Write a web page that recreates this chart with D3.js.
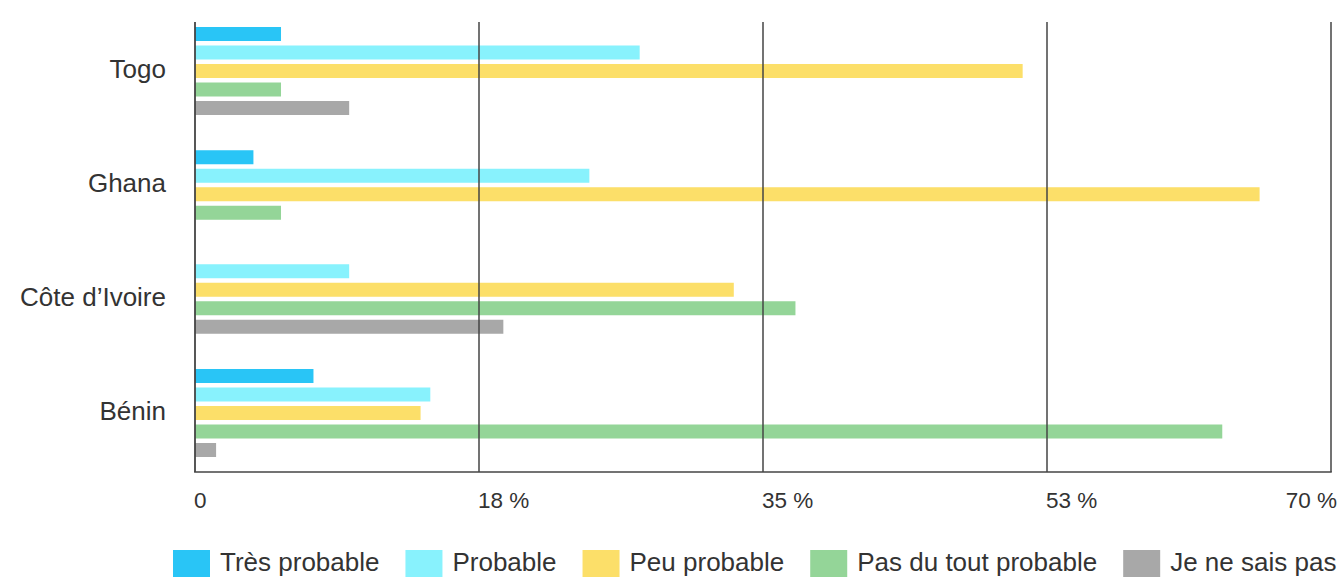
<!DOCTYPE html>
<html>
<head>
<meta charset="utf-8">
<script src="https://cdn.jsdelivr.net/npm/d3@7/dist/d3.min.js"></script>
<style>
  html, body { margin: 0; padding: 0; background: #fff; }
  svg { display: block; font-family: "Liberation Sans", Arial, Helvetica, sans-serif; }
</style>
</head>
<body>
<svg id="chart" width="1338" height="577"></svg>
<script>
const categories = ["Togo", "Ghana", "Côte d’Ivoire", "Bénin"];
const seriesNames = ["Très probable", "Probable", "Peu probable", "Pas du tout probable", "Je ne sais pas"];
const seriesColors = ["#29c5f6", "#88f2fd", "#fcdf69", "#94d598", "#a8a8a8"];
// values per series, in category order (0 = no bar)
const tresProbable   = [5.3, 3.6, 0, 7.3];
const probable       = [27.4, 24.3, 9.5, 14.5];
const peuProbable    = [51.0, 65.6, 33.2, 13.9];
const pasDuTout      = [5.3, 5.3, 37.0, 63.3];
const jeNeSaisPas    = [9.5, 0, 19.0, 1.3];
const tickValues = [0, 17.5, 35, 52.5, 70];
const tickLabels = ["0", "18 %", "35 %", "53 %", "70 %"];

const seriesValues = [tresProbable, probable, peuProbable, pasDuTout, jeNeSaisPas];

const svg = d3.select("#chart");
const plotTop = 22, plotBottom = 472, plotLeft = 195, plotRight = 1331;
const textColor = "#333";
const lineColor = "#444";

const x = d3.scaleLinear().domain([0, 70]).range([plotLeft, plotRight]);
const y0 = d3.scaleBand().domain(categories).range([14, 470]);

const slot = 18.5;
const gBars = svg.append("g");
categories.forEach((cat, ci) => {
  const present = seriesNames.map((s, si) => si).filter(si => seriesValues[si][ci] > 0);
  const n = present.length;
  const center = y0(cat) + y0.bandwidth() / 2;
  const y1 = d3.scaleBand().domain(present).range([center - n * slot / 2, center + n * slot / 2]).paddingInner(0.243).paddingOuter(0.1215);
  gBars.selectAll(null).data(present).enter().append("rect")
    .attr("x", x(0))
    .attr("y", si => y1(si))
    .attr("width", si => x(seriesValues[si][ci]) - x(0))
    .attr("height", y1.bandwidth())
    .attr("fill", si => seriesColors[si]);
  svg.append("text")
    .attr("x", 166)
    .attr("y", center + 7)
    .attr("text-anchor", "end")
    .attr("font-size", 26)
    .attr("fill", textColor)
    .text(cat);
});

// gridlines (on top of bars)
svg.append("g").selectAll("line").data(tickValues.slice(1)).enter().append("line")
  .attr("x1", d => x(d)).attr("x2", d => x(d))
  .attr("y1", plotTop).attr("y2", plotBottom)
  .attr("stroke", lineColor).attr("stroke-width", 1.5);
// left axis
svg.append("line").attr("x1", x(0)).attr("x2", x(0)).attr("y1", plotTop).attr("y2", plotBottom)
  .attr("stroke", lineColor).attr("stroke-width", 1.8);
// bottom axis
svg.append("line").attr("x1", x(0) - 0.9).attr("x2", x(70) + 0.75).attr("y1", plotBottom).attr("y2", plotBottom)
  .attr("stroke", lineColor).attr("stroke-width", 1.5);

// tick labels
svg.append("g").selectAll("text").data(tickValues).enter().append("text")
  .attr("x", (d, i) => i === tickValues.length - 1 ? x(d) + 6 : x(d) - 1)
  .attr("y", 508)
  .attr("text-anchor", (d, i) => i === tickValues.length - 1 ? "end" : "start")
  .attr("font-size", 22.5)
  .attr("fill", textColor)
  .text((d, i) => tickLabels[i]);

// legend
const legend = svg.append("g");
let lx = 173;
seriesNames.forEach((name, i) => {
  legend.append("rect").attr("x", lx).attr("y", 550).attr("width", 37).attr("height", 27).attr("fill", seriesColors[i]);
  const t = legend.append("text").attr("x", lx + 47).attr("y", 570.5)
    .attr("font-size", 26).attr("fill", textColor).text(name);
  const w = t.node().getComputedTextLength();
  lx = lx + 47 + w + 26;
});
</script>
</body>
</html>
